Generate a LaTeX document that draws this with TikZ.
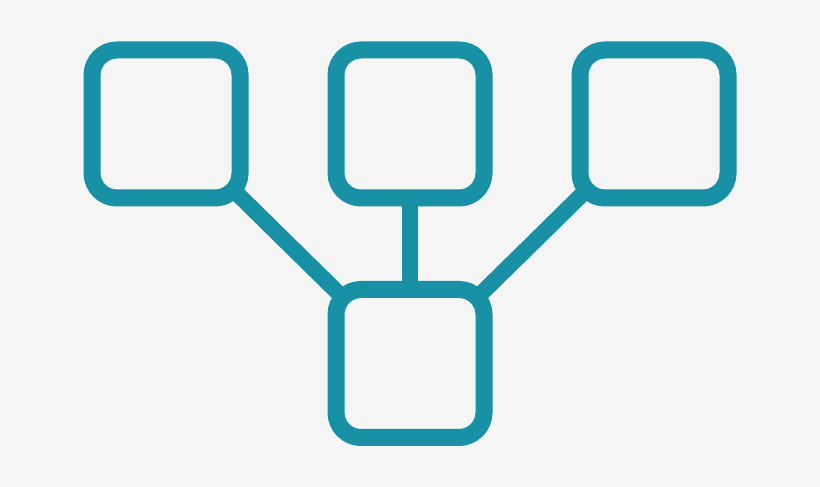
\documentclass[tikz,border=0pt]{standalone}
\usepackage{tikz}
\usetikzlibrary{positioning}
\definecolor{hubteal}{RGB}{24,144,165}
\definecolor{paper}{RGB}{245,245,245}

\begin{document}
\begin{tikzpicture}[grow=up, level distance=4.79cm, sibling distance=4.88cm,
              every node/.style = {shape=rectangle, rounded corners=0.5cm,
                draw=hubteal, line width=0.34cm, outer sep=0pt, inner sep=0pt,
                minimum width=2.96cm, minimum height=2.96cm},
              edge from parent/.style = {draw=hubteal, line width=0.32cm,
                shorten <=-0.15cm, shorten >=-0.15cm}]
              \fill[paper] (0,0) rectangle (16.4,-9.74);
              \useasboundingbox (0,0) rectangle (16.4,-9.74);
              \node (hub) at (8.2,-7.27) {}
                child { node (leafA) {} }
                child { node (leafB) {} }
                child { node (leafC) {} };
            \end{tikzpicture}
\end{document}
